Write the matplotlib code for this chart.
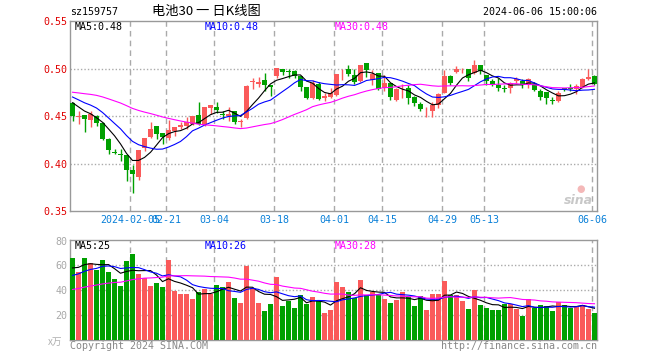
import numpy as np
import pandas as pd
import matplotlib
matplotlib.use('Agg')
import matplotlib.pyplot as plt

W, H = 660, 360

# daily candles, 2024-01-22 .. 2024-06-06 (88 sessions)
opens = [0.464, 0.449, 0.451, 0.446, 0.450, 0.443, 0.426, 0.412, 0.410, 0.409,
         0.393, 0.386, 0.416, 0.428, 0.440, 0.432, 0.427, 0.434, 0.438, 0.440,
         0.442, 0.451, 0.441, 0.458, 0.460, 0.452, 0.450, 0.455, 0.444, 0.448,
         0.486, 0.484, 0.488, 0.483, 0.492, 0.500, 0.497, 0.497, 0.492, 0.481,
         0.469, 0.484, 0.469, 0.470, 0.472, 0.499, 0.500, 0.493, 0.487, 0.506,
         0.488, 0.495, 0.479, 0.485, 0.467, 0.479, 0.479, 0.470, 0.463, 0.457,
         0.455, 0.462, 0.474, 0.492, 0.496, 0.499, 0.500, 0.495, 0.504, 0.493,
         0.487, 0.483, 0.479, 0.479, 0.487, 0.487, 0.484, 0.484, 0.476, 0.475,
         0.467, 0.466, 0.479, 0.479, 0.478, 0.481, 0.489, 0.492]
highs = [0.465, 0.455, 0.451, 0.455, 0.451, 0.444, 0.427, 0.415, 0.415, 0.409,
         0.398, 0.414, 0.427, 0.444, 0.440, 0.432, 0.446, 0.438, 0.444, 0.449,
         0.450, 0.465, 0.459, 0.462, 0.465, 0.455, 0.460, 0.455, 0.447, 0.483,
         0.490, 0.491, 0.495, 0.483, 0.501, 0.500, 0.500, 0.498, 0.492, 0.481,
         0.488, 0.486, 0.474, 0.479, 0.494, 0.500, 0.504, 0.500, 0.504, 0.506,
         0.498, 0.495, 0.493, 0.485, 0.479, 0.484, 0.483, 0.471, 0.465, 0.460,
         0.465, 0.474, 0.498, 0.493, 0.503, 0.501, 0.500, 0.509, 0.504, 0.493,
         0.489, 0.490, 0.483, 0.486, 0.491, 0.489, 0.490, 0.486, 0.478, 0.475,
         0.470, 0.476, 0.480, 0.484, 0.484, 0.490, 0.500, 0.493]
lows = [0.445, 0.442, 0.433, 0.438, 0.440, 0.425, 0.410, 0.410, 0.403, 0.382,
        0.369, 0.383, 0.413, 0.427, 0.426, 0.421, 0.425, 0.429, 0.436, 0.436,
        0.441, 0.441, 0.440, 0.452, 0.453, 0.447, 0.445, 0.442, 0.438, 0.447,
        0.478, 0.481, 0.476, 0.471, 0.490, 0.493, 0.490, 0.490, 0.476, 0.468,
        0.468, 0.467, 0.466, 0.469, 0.471, 0.488, 0.492, 0.484, 0.486, 0.491,
        0.483, 0.477, 0.476, 0.467, 0.466, 0.469, 0.463, 0.461, 0.455, 0.449,
        0.449, 0.458, 0.474, 0.483, 0.495, 0.495, 0.487, 0.494, 0.494, 0.483,
        0.482, 0.476, 0.475, 0.474, 0.485, 0.479, 0.479, 0.476, 0.467, 0.463,
        0.463, 0.465, 0.476, 0.476, 0.473, 0.480, 0.488, 0.483]
closes = [0.450, 0.449, 0.447, 0.452, 0.443, 0.426, 0.414, 0.411, 0.409, 0.393,
          0.389, 0.414, 0.427, 0.436, 0.431, 0.428, 0.435, 0.438, 0.441, 0.444,
          0.450, 0.442, 0.459, 0.462, 0.456, 0.451, 0.452, 0.444, 0.445, 0.482,
          0.487, 0.486, 0.483, 0.481, 0.501, 0.496, 0.496, 0.492, 0.481, 0.469,
          0.485, 0.468, 0.471, 0.474, 0.494, 0.500, 0.494, 0.486, 0.504, 0.498,
          0.494, 0.478, 0.485, 0.470, 0.478, 0.480, 0.469, 0.464, 0.457, 0.457,
          0.462, 0.473, 0.492, 0.485, 0.500, 0.500, 0.490, 0.504, 0.497, 0.487,
          0.483, 0.479, 0.478, 0.485, 0.489, 0.483, 0.489, 0.477, 0.470, 0.469,
          0.466, 0.474, 0.478, 0.478, 0.482, 0.489, 0.491, 0.484]
# volume in 万
volumes = [66, 54.4, 66, 61.7, 56.3, 64.6, 55, 49.5, 43.3, 63.6,
           69.2, 53.3, 50, 43.3, 45.7, 42.8, 64.6, 39.5, 36.8, 36.8,
           32.8, 38.7, 41.4, 37.3, 44, 42.6, 46.8, 33.9, 29.8, 59.8,
           42, 29.8, 23, 28.7, 50.9, 27.1, 31.7, 25.8, 36, 29.3,
           34.4, 31.2, 21.7, 23.9, 46.8, 42.8, 38.7, 33.9, 48.2, 36,
           38.7, 36, 32.8, 29.8, 32.2, 38.7, 34.7, 27.1, 35.5, 23.9,
           36.8, 36.8, 47.4, 36, 36, 31.2, 24.7, 40, 27.9, 25.8,
           23.9, 23.9, 29.3, 29.3, 24.7, 19.3, 32.8, 25.8, 27.9, 27.4,
           23, 30.6, 27.9, 25.8, 27.4, 27.9, 24.7, 22]

# sessions before 2024-01-22, estimated from where the MA lines start
prior_closes = [0.470, 0.472, 0.473, 0.474, 0.475, 0.476, 0.476, 0.475, 0.476, 0.476,
                0.478, 0.480, 0.482, 0.483, 0.482, 0.481, 0.480, 0.481, 0.480, 0.480,
                0.479, 0.478, 0.476, 0.474, 0.473, 0.471, 0.469, 0.466, 0.464]
prior_volumes = [30, 33, 36, 32, 38, 35, 34, 37, 33, 36, 35, 34, 38, 36, 33, 37, 35, 36, 34, 38,
                 42, 45, 47, 48, 48, 52, 55, 58, 59]

tick_idx = [10, 16, 24, 34, 44, 52, 62, 69, 87]
tick_labels = ['2024-02-05', '02-21', '03-04', '03-18', '04-01', '04-15', '04-29', '05-13', '06-06']
price_ma_text = ['0.48', '0.48', '0.48']
vol_ma_text = ['25', '26', '28']

RED = '#fa5a5a'
GREEN = '#00a000'
MA_COLORS = ['#000000', '#0000ff', '#ff00ff']
MONO = 'DejaVu Sans Mono'
plt.rcParams['font.family'] = MONO


def fx(x):
    return x / W


def fy(y):
    return 1 - y / H


n = len(closes)
xs = np.arange(n)
o = np.array(opens)
c = np.array(closes)
up = c >= o
colors = [RED if u else GREEN for u in up]

close_all = pd.Series(prior_closes + closes)
vol_all = pd.Series(prior_volumes + volumes)
k = len(prior_closes)
price_ma = [close_all.rolling(p).mean().values[k:] for p in (5, 10, 30)]
vol_ma = [vol_all.rolling(p).mean().values[k:] for p in (5, 10, 30)]

fig = plt.figure(figsize=(W / 100, H / 100), dpi=100, facecolor='w')
ax1 = fig.add_axes([fx(70), fy(211), fx(527), 190 / H])
ax2 = fig.add_axes([fx(70), fy(340), fx(527), 100 / H])

for ax in (ax1, ax2):
    ax.set_xlim(-0.42, n - 0.58)
    for s in ax.spines.values():
        s.set_color('#999999')
        s.set_linewidth(1)
    ax.tick_params(length=0)
    for t in tick_idx:
        ax.axvline(t - 0.35, color='#aaaaaa', lw=1, ls=(0, (4, 3)), zorder=1)

# price panel
ax1.set_ylim(0.35, 0.55)
for g in (0.40, 0.45, 0.50):
    ax1.axhline(g, color='#aaaaaa', lw=1, ls=(0, (1, 1.5)), zorder=1)
ax1.vlines(xs, lows, highs, colors=colors, lw=1, zorder=3)
body_bottom = np.minimum(o, c)
body_h = np.maximum(np.abs(c - o), 0.0007)
ax1.bar(xs, body_h, bottom=body_bottom, width=0.8, color=colors, lw=0, zorder=4)
for ma, col in zip(price_ma, MA_COLORS):
    ax1.plot(xs, ma, color=col, lw=0.8, zorder=5)
ax1.set_yticks([0.35, 0.40, 0.45, 0.50, 0.55])
ax1.set_yticklabels(['%.2f' % v for v in [0.35, 0.40, 0.45, 0.50, 0.55]], color='#e00000', fontsize=7.2)
ax1.set_xticks([t - 0.35 for t in tick_idx])
ax1.set_xticklabels(tick_labels, color='#0a80d8', fontsize=7.2)
ax1.tick_params(axis='y', pad=2)
ax1.tick_params(axis='x', pad=3)

# volume panel
ax2.set_ylim(0, 80.5)
for g in (20, 40, 60):
    ax2.axhline(g, color='#aaaaaa', lw=1, ls=(0, (1, 1.5)), zorder=1)
ax2.bar(xs, volumes, width=0.78, color=colors, lw=0, zorder=3)
for ma, col in zip(vol_ma, MA_COLORS):
    ax2.plot(xs, ma, color=col, lw=0.8, zorder=5)
ax2.set_yticks([20, 40, 60, 80])
ax2.set_yticklabels(['20', '40', '60', '80'], color='#a8a8a8', fontsize=7.2)
ax2.set_xticks([])
ax2.tick_params(axis='y', pad=2)

# legends
for i, name in enumerate(['MA5', 'MA10', 'MA30']):
    fig.text(fx(75 + 130 * i), fy(27), '%s:%s' % (name, price_ma_text[i]),
             color=MA_COLORS[i], fontsize=7.2, va='center')
    fig.text(fx(75 + 130 * i), fy(246), '%s:%s' % (name, vol_ma_text[i]),
             color=MA_COLORS[i], fontsize=7.2, va='center')

# header / footer
fig.text(fx(70), fy(12), 'sz159757', fontsize=7.2, va='center')
fig.text(fx(206), fy(12), '电池30 一 日K线图', fontsize=9.5, va='center', ha='center',
         family=['Noto Sans CJK SC', 'DejaVu Sans'])
fig.text(fx(597), fy(12), '2024-06-06 15:00:06', fontsize=7.2, va='center', ha='right')
fig.text(fx(70), fy(346), 'Copyright 2024 SINA.COM', fontsize=7.2, va='center', color='#888888')
fig.text(fx(597), fy(346), 'http://finance.sina.com.cn', fontsize=7.2, va='center', ha='right',
         color='#888888')
fig.text(fx(48), fy(342), 'x万', fontsize=7, va='center', color='#b0b0b0',
         family=['Noto Sans CJK SC', 'DejaVu Sans'])
fig.text(fx(578), fy(200), 'sina', fontsize=9, va='center', ha='center', color='#c8c8c8',
         style='italic', weight='bold', family='DejaVu Sans')
fig.text(fx(581), fy(189), '●', fontsize=7, va='center', ha='center', color='#f4b8b8',
         family='DejaVu Sans')

fig.savefig('out.png', dpi=100, facecolor='w')
